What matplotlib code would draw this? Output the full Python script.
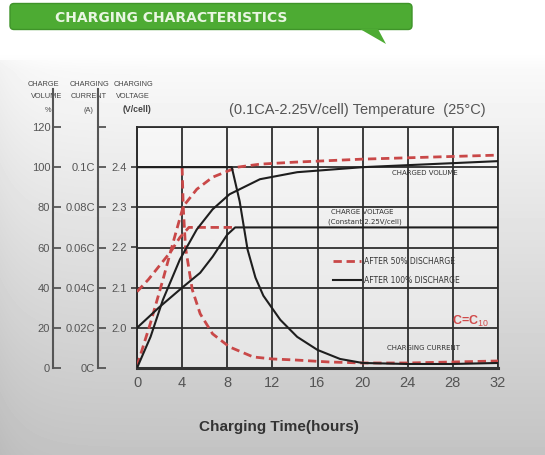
import numpy as np
import matplotlib
matplotlib.use('Agg')
import matplotlib.pyplot as plt
from matplotlib.patches import FancyBboxPatch, Polygon
from matplotlib.lines import Line2D

plt.rcParams['mathtext.fontset'] = 'custom'
plt.rcParams['mathtext.rm'] = 'Liberation Sans'
plt.rcParams['mathtext.bf'] = 'Liberation Sans:bold'

# ---------------- data ----------------
hour_ticks = [0, 4, 8, 12, 16, 20, 24, 28, 32]
volume_ticks = [0, 20, 40, 60, 80, 100, 120]
volume_labels = ['0', '20', '40', '60', '80', '100', '120']
current_ticks = [0, 0.02, 0.04, 0.06, 0.08, 0.10, 0.12]
current_labels = ['0C', '0.02C', '0.04C', '0.06C', '0.08C', '0.1C', '']
volt_ticks = [2.0, 2.1, 2.2, 2.3, 2.4]
volt_labels = ['2.0', '2.1', '2.2', '2.3', '2.4']

# charged volume (%)
vol100_t = [0, 1.2, 2.3, 3.8, 5.3, 6.7, 8.2, 10.9, 14.2, 20, 26, 32]
vol100_v = [0, 15.5, 34, 54, 69, 79, 86.5, 94, 97.5, 100, 101.5, 103]
vol50_t = [0, 1.2, 2.3, 3.2, 4.1, 5.3, 6.7, 8.9, 10.9, 14, 20, 26, 32]
vol50_v = [1, 22.5, 44, 62.5, 80.5, 89, 95, 100, 101.5, 102.5, 104, 105, 106]

# charge voltage (V/cell)
volt100_t = [0, 2, 4, 5.6, 6.7, 8, 8.7, 32]
volt100_v = [2.00, 2.052, 2.10, 2.137, 2.177, 2.232, 2.25, 2.25]
volt50_t = [0, 1, 2, 3, 3.8, 4.6, 8.7]
volt50_v = [2.09, 2.12, 2.155, 2.19, 2.225, 2.25, 2.25]

# charging current (C); after 50% discharge the 0.1C phase (0-4 h) lies under the black line
cur100_t = [0, 8.4, 9.1, 9.8, 10.5, 11.2, 12.7, 14.2, 16, 18, 20, 24, 28, 32]
cur100_v = [0.1, 0.1, 0.083, 0.059, 0.045, 0.036, 0.024, 0.0155, 0.009, 0.0045,
            0.0025, 0.002, 0.002, 0.0025]
cur50_t = [4.0, 4.1, 4.3, 4.9, 5.6, 6.7, 8.2, 10.3, 12, 14, 17, 20, 24, 28, 32]
cur50_v = [0.1, 0.08, 0.06, 0.039, 0.027, 0.017, 0.0105, 0.0055, 0.0045,
           0.004, 0.003, 0.0025, 0.0025, 0.003, 0.0035]


def v2pct(v):
    return 20 + (np.asarray(v) - 2.0) * 200


def pct2v(p):
    return 2.0 + (np.asarray(p) - 20) / 200


def c2pct(c):
    return np.asarray(c) * 1000


# ---------------- figure ----------------
W, H = 545, 455
fig = plt.figure(figsize=(W / 100, H / 100), dpi=100)

bg = fig.add_axes([0, 0, 1, 1])
bg.set_xlim(0, W)
bg.set_ylim(H, 0)
bg.axis('off')
rows = np.arange(H, dtype=float)
vals = np.where(rows < 52, 1.0,
                np.where(rows < 70, 1.0 - 0.025 * (rows - 52) / 18,
                         0.975 - 0.21 * ((rows - 70) / (H - 70))))
img = np.tile(vals[:, None], (1, W))
cols = np.arange(W, dtype=float)
edge = 0.03 * np.exp(-cols / 25.0)
img = img - np.where(rows[:, None] >= 60, edge[None, :], 0)
bg.imshow(img, cmap='gray', vmin=0, vmax=1, extent=[0, W, H, 0], aspect='auto',
          interpolation='bilinear', zorder=0)

# banner
banner = FancyBboxPatch((10, 3.5), 402, 26, boxstyle='round,pad=0,rounding_size=4',
                        fc='#4dab33', ec='#3f9429', lw=1, zorder=2)
bg.add_patch(banner)
bg.add_patch(Polygon([(360, 29), (386, 44), (378, 29)], closed=True,
                     fc='#4dab33', ec='none', zorder=2))
bg.text(55, 17.5, 'CHARGING CHARACTERISTICS', ha='left', va='center',
        fontsize=10, fontweight='bold', family='DejaVu Sans', color='#e9f6e2', zorder=3)

# axis headers
hdr = dict(ha='center', va='center', fontsize=5.3, family='Liberation Sans', color='#444')
bg.text(43, 85, 'CHARGE', **hdr)
bg.text(89, 85, 'CHARGING', **hdr)
bg.text(134, 85, 'CHARGING', **hdr)
bg.text(47, 96, 'VOLUME', **hdr)
bg.text(89, 96, 'CURRENT', **hdr)
bg.text(133, 96, 'VOLTAGE', **hdr)
bg.text(48, 110, '%', **hdr)
bg.text(88, 110, '(A)', **hdr)
bg.text(137, 110, '(V/cell)', ha='center', va='center', fontsize=6.3,
        family='Liberation Sans', fontweight='bold', color='#444')

bg.text(357, 110, '(0.1CA-2.25V/cell) Temperature  (25\u00b0C)', ha='center', va='center',
        fontsize=10.5, family='Liberation Sans', color='#555')
bg.text(279, 427, 'Charging Time(hours)', ha='center', va='center', fontsize=11,
        fontweight='bold', family='Liberation Sans', color='#333')

# main axes
x0, x1, ybot, ytop = 137, 498, 368, 127
ax = fig.add_axes([x0 / W, 1 - ybot / H, (x1 - x0) / W, (ybot - ytop) / H])
ax.set_facecolor((1, 1, 1, 0.45))
ax.set_xlim(0, 32)
ax.set_ylim(0, 120)
ax.set_xticks(hour_ticks)
ax.set_xticklabels([str(h) for h in hour_ticks])
ax.set_yticks(volume_ticks)
ax.grid(True, color='#2e2e2e', lw=1.3)
ax.set_axisbelow(True)
for s in ax.spines.values():
    s.set_color('#2e2e2e')
    s.set_linewidth(1.3)
ax.spines['bottom'].set_linewidth(2.2)
ax.spines['bottom'].set_color('#333')
ax.tick_params(axis='y', labelleft=False, length=0)
ax.tick_params(axis='x', length=0, pad=6, labelsize=10.5, labelcolor='#555')
for lab in ax.get_xticklabels():
    lab.set_family('Liberation Sans')

red = dict(color='#c94848', lw=2.0, dashes=(3, 1.7), zorder=3)
blk = dict(color='#1e1e1e', lw=1.5, zorder=4)

ax.plot(vol50_t, vol50_v, **red)
ax.plot(volt50_t, v2pct(volt50_v), **red)
ax.plot(cur50_t, c2pct(cur50_v), **red)
ax.plot(vol100_t, vol100_v, **blk)
ax.plot(volt100_t, v2pct(volt100_v), **blk)
ax.plot(cur100_t, c2pct(cur100_v), **blk)

small = dict(fontsize=5, family='DejaVu Sans', color='#333', ha='center', va='center')
ax.text(25.5, 97, 'CHARGED VOLUME', **small)
ax.text(20.0, 77.6, 'CHARGE VOLTAGE', **small)
ax.text(20.2, 72.8, '(Constant 2.25V/cell)', **small)
ax.text(25.4, 10, 'CHARGING CURRENT', **small)
ax.text(27.9, 23, r'C=C$_{\mathrm{10}}$', fontsize=9, fontweight='bold', color='#d04a4a',
        ha='left', va='center', family='Liberation Sans')

handles = [Line2D([], [], color='#c94848', lw=2.0, dashes=(3, 1.7)),
           Line2D([], [], color='#1e1e1e', lw=1.5)]
leg = ax.legend(handles, ['AFTER 50% DISCHARGE', 'AFTER 100% DISCHARGE'],
                loc='upper left', bbox_to_anchor=(0.544, 0.462), frameon=False,
                fontsize=5.5, handlelength=3.6, handletextpad=0.4, labelspacing=1.3,
                borderpad=0, borderaxespad=0)
for t in leg.get_texts():
    t.set_color('#333')

# voltage axis (on plot's left edge)
sec = ax.secondary_yaxis('left', functions=(pct2v, v2pct))
sec.set_yticks(volt_ticks)
sec.set_yticklabels(volt_labels)
sec.tick_params(direction='out', length=4.5, width=1.3, color='#444', labelsize=8,
                labelcolor='#555', pad=3)
sec.spines['left'].set_color('#2e2e2e')
sec.spines['left'].set_linewidth(1.3)
for lab in sec.get_yticklabels():
    lab.set_family('Liberation Sans')

px_per_unit = (ybot - ytop) / 120.0
top_units = 139


def side_axis(xpix, upper, ticks, labels):
    a = fig.add_axes([xpix / W, 1 - ybot / H, 0.001, top_units * px_per_unit / H])
    a.patch.set_visible(False)
    a.set_ylim(0, upper)
    for k in ['top', 'right', 'bottom']:
        a.spines[k].set_visible(False)
    a.spines['left'].set_color('#555')
    a.spines['left'].set_linewidth(1.5)
    a.set_xticks([])
    a.set_yticks(ticks)
    a.set_yticklabels(labels)
    a.tick_params(axis='y', direction='in', length=6, width=1.3, color='#555',
                  labelsize=8, labelcolor='#555', pad=2)
    for lab in a.get_yticklabels():
        lab.set_family('Liberation Sans')
    return a


side_axis(53, top_units, volume_ticks, volume_labels)
side_axis(98, top_units / 1000, current_ticks, current_labels)

fig.savefig('out.png', dpi=100)
